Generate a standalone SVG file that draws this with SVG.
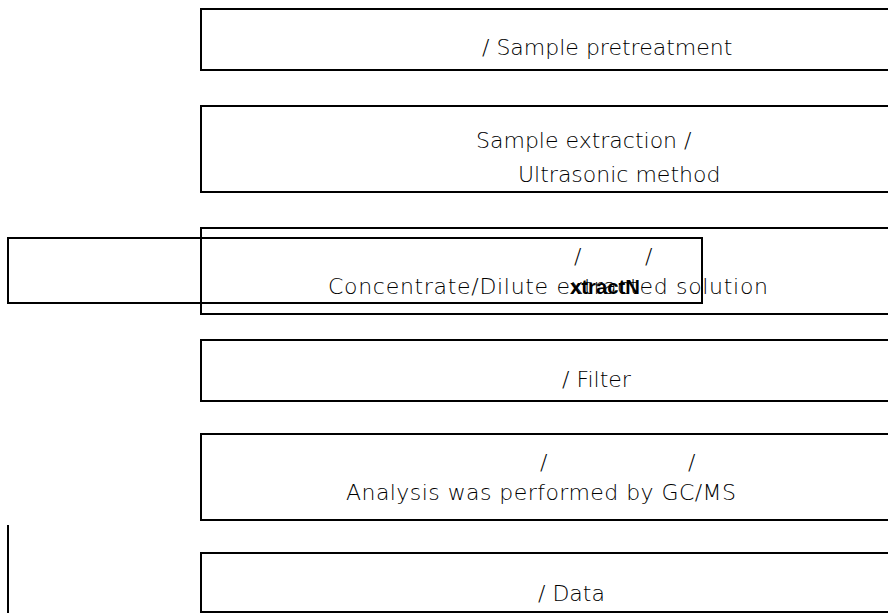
<svg xmlns="http://www.w3.org/2000/svg" width="888" height="613" viewBox="0 0 888 613">
<style>
.box{fill:none;stroke:#000;stroke-width:2}
.t{font-family:"DejaVu Sans","Open Sans",sans-serif;font-weight:200;font-size:22px;fill:#000}
.b{font-family:"Liberation Sans Narrow","Liberation Sans",sans-serif;font-weight:bold;font-size:20px;fill:#000}
</style>
<rect width="888" height="613" fill="#fff"/>
<g id="n1"><rect class="box" x="201" y="9" width="720" height="61"/><text class="t" x="482" y="55">/ Sample pretreatment</text></g>
<g id="n2"><rect class="box" x="201" y="106" width="720" height="86"/><text class="t" x="476" y="148">Sample extraction /</text><text class="t" x="518" y="182">Ultrasonic method</text></g>
<g id="n3"><rect class="box" x="201" y="228" width="720" height="86"/><text class="t" x="574" y="264">/</text><text class="t" x="645" y="264">/</text><text class="t" x="328" y="294" textLength="440">Concentrate/Dilute extracted solution</text><text class="b" x="570" y="294" textLength="70" lengthAdjust="spacingAndGlyphs">xtractN</text></g>
<g id="n3b"><rect class="box" x="8" y="238" width="694" height="65"/></g>
<g id="n4"><rect class="box" x="201" y="340" width="720" height="61"/><text class="t" x="562" y="387">/ Filter</text></g>
<g id="n5"><rect class="box" x="201" y="434" width="720" height="86"/><text class="t" x="540" y="470">/</text><text class="t" x="688" y="470">/</text><text class="t" x="346" y="500" textLength="390">Analysis was performed by GC/MS</text></g>
<g id="n6"><rect class="box" x="201" y="553" width="720" height="59"/><text class="t" x="538" y="601">/ Data</text></g>
<g id="connectors"><line x1="8" y1="525" x2="8" y2="613" stroke="#000" stroke-width="2"/></g>
</svg>
